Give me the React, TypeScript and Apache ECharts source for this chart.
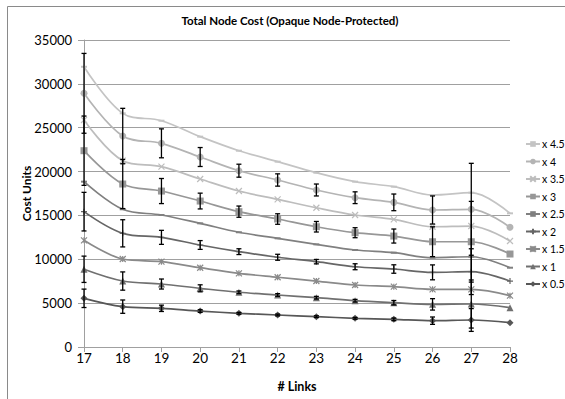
import React, { useEffect, useRef } from "react";
import * as echarts from "echarts";

const links = [17, 18, 19, 20, 21, 22, 23, 24, 25, 26, 27, 28];
const seriesNames = ["x 0.5", "x 1", "x 1.5", "x 2", "x 2.5", "x 3", "x 3.5", "x 4", "x 4.5"];

const x05 = [5550, 4600, 4410, 4100, 3840, 3650, 3460, 3270, 3150, 3000, 3080, 2770];
const x1 = [8860, 7520, 7180, 6690, 6240, 5930, 5620, 5280, 5050, 4860, 4900, 4480];
const x15 = [12160, 10030, 9730, 9040, 8400, 7950, 7520, 7070, 6880, 6570, 6570, 5850];
const x2 = [15430, 12960, 12500, 11630, 10870, 10230, 9730, 9150, 8890, 8510, 8590, 7520];
const x25 = [18850, 15700, 15050, 14100, 13080, 12390, 11700, 11060, 10750, 10180, 10290, 9040];
const x3 = [22380, 18580, 17780, 16640, 15430, 14590, 13710, 13030, 12650, 12000, 12000, 10600];
const x35 = [25880, 21240, 20560, 19150, 17780, 16830, 15880, 15050, 14550, 13710, 13790, 12080];
const x4 = [28920, 24050, 23220, 21660, 20100, 19040, 17900, 17020, 16490, 15620, 15700, 13650];
const x45 = [31950, 26640, 25800, 23980, 22380, 21130, 19870, 18850, 18280, 17330, 17590, 15240];

// symmetric error amounts (+/-)
const err05 = [1050, 760, 360, 150, 100, 100, 100, 100, 150, 420, 1300, 0];
const err1 = [1500, 1040, 570, 400, 150, 150, 150, 150, 250, 650, 2740, 0];
const err2 = [2200, 1550, 800, 500, 330, 340, 250, 340, 480, 850, 2610, 0];
const err3 = [3950, 2800, 1430, 900, 640, 600, 600, 570, 800, 1700, 4600, 0];
const err4 = [4550, 3160, 1650, 1080, 740, 700, 680, 670, 950, 1600, 5240, 0];

const yTicks = { min: 0, max: 35000, interval: 5000 };

const FONT = "Lato";

export default function App() {
  const ref = useRef<HTMLDivElement>(null);

  useEffect(() => {
    if (!ref.current) return;
    const chart = echarts.init(ref.current, undefined, { renderer: "svg" });

    const dash = "path://M0,0H10V3H0Z";
    const cross = "path://M0,0L10,10M10,0L0,10";
    const plus = "path://M5,0V10M0,5H10";
    const star = "path://M0,0L10,10M10,0L0,10M5,0V10";

    const defs = [
      { name: "x 0.5", data: x05, color: "#575757", symbol: "diamond", size: 7, stroke: false },
      { name: "x 1", data: x1, color: "#707070", symbol: "triangle", size: 7, stroke: false },
      { name: "x 1.5", data: x15, color: "#8a8a8a", symbol: star, size: 6, stroke: true },
      { name: "x 2", data: x2, color: "#666666", symbol: plus, size: 6, stroke: true },
      { name: "x 2.5", data: x25, color: "#808080", symbol: dash, size: [6, 2], stroke: false },
      { name: "x 3", data: x3, color: "#979797", symbol: "rect", size: 7, stroke: false },
      { name: "x 3.5", data: x35, color: "#bdbdbd", symbol: cross, size: 6, stroke: true },
      { name: "x 4", data: x4, color: "#b4b4b4", symbol: "circle", size: 7, stroke: false },
      { name: "x 4.5", data: x45, color: "#c4c4c4", symbol: dash, size: [6, 2], stroke: false },
    ];

    const lineSeries = defs.map((d) => ({
      name: d.name,
      type: "line",
      smooth: 0.35,
      data: links.map((x, i) => [x, d.data[i]]),
      symbol: d.symbol,
      symbolSize: d.size,
      showSymbol: true,
      lineStyle: { color: d.color, width: 1.7 },
      itemStyle: d.stroke
        ? { color: d.color, borderColor: d.color, borderWidth: 1.2 }
        : { color: d.color, borderWidth: 0 },
      z: 2,
    }));

    const errDefs = [
      { vals: x05, err: err05 },
      { vals: x1, err: err1 },
      { vals: x2, err: err2 },
      { vals: x3, err: err3 },
      { vals: x4, err: err4 },
    ];

    const errSeries = errDefs.map((e, k) => ({
      name: "err" + k,
      type: "custom",
      z: 5,
      encode: { x: 0, y: [1, 2] },
      data: links.map((x, i) => [x, e.vals[i] - e.err[i], e.vals[i] + e.err[i]]),
      renderItem: (params: any, api: any) => {
        const x = api.value(0);
        const lo = api.value(1);
        const hi = api.value(2);
        if (hi - lo <= 0) return null;
        const p1 = api.coord([x, hi]);
        const p2 = api.coord([x, lo]);
        const st = { stroke: "#000", lineWidth: 1.3 };
        return {
          type: "group",
          children: [
            { type: "line", shape: { x1: p1[0], y1: p1[1], x2: p2[0], y2: p2[1] }, style: st },
            { type: "line", shape: { x1: p1[0] - 2.5, y1: p1[1], x2: p1[0] + 2.5, y2: p1[1] }, style: st },
            { type: "line", shape: { x1: p2[0] - 2.5, y1: p2[1], x2: p2[0] + 2.5, y2: p2[1] }, style: st },
          ],
        };
      },
    }));

    chart.setOption({
      animation: false,
      textStyle: { fontFamily: FONT },
      grid: { left: 84, right: 55, top: 40, bottom: 52, containLabel: false },
      graphic: [
        {
          type: "polyline",
          shape: { points: [[7.5, 420], [7.5, 6.5], [600, 6.5]] },
          style: { stroke: "#8a8a8a", fill: "none", lineWidth: 1 },
          silent: true,
        },
        {
          type: "text",
          x: 290,
          y: 20,
          style: {
            text: "Total Node Cost (Opaque Node-Protected)",
            font: `bold 11.5px ${FONT}`,
            fill: "#000",
            textAlign: "center",
            textVerticalAlign: "middle",
          },
        },
      ],
      legend: {
        orient: "vertical",
        left: 525,
        top: 137,
        width: 40,
        padding: 0,
        itemWidth: 14,
        itemHeight: 7,
        itemGap: 3.5,
        data: [...seriesNames].reverse(),
        textStyle: {
          fontSize: 10.5,
          color: "#000",
          fontFamily: FONT,
          lineHeight: 14,
          padding: [0, 0, 0, -3],
          width: 36,
          overflow: "none",
        },
      },
      xAxis: {
        type: "value",
        min: 17,
        max: 28,
        interval: 1,
        name: "# Links",
        nameLocation: "middle",
        nameGap: 33,
        nameMoveOverlap: false,
        nameTextStyle: { fontWeight: "bold", fontSize: 12.5, color: "#000", fontFamily: FONT },
        axisLine: { show: true, lineStyle: { color: "#a0a0a0", width: 1 } },
        axisTick: { show: true, length: 5, lineStyle: { color: "#a0a0a0" } },
        axisLabel: { fontSize: 13.5, color: "#000", margin: 4, fontFamily: FONT },
        splitLine: { show: false },
      },
      yAxis: {
        type: "value",
        min: yTicks.min,
        max: yTicks.max,
        interval: yTicks.interval,
        name: "Cost Units",
        nameLocation: "middle",
        nameGap: 52,
        nameMoveOverlap: false,
        nameTextStyle: { fontWeight: "bold", fontSize: 12, color: "#000", fontFamily: FONT },
        axisLine: { show: true, lineStyle: { color: "#a0a0a0", width: 1 } },
        axisTick: { show: true, length: 6, lineStyle: { color: "#a0a0a0" } },
        axisLabel: {
          fontSize: 13,
          color: "#000",
          margin: 12,
          fontFamily: FONT,
          formatter: (v: number) => String(v),
        },
        splitLine: { show: true, lineStyle: { color: "#a0a0a0", width: 1 } },
      },
      series: [...lineSeries, ...errSeries],
    });

    return () => chart.dispose();
  }, []);

  return <div ref={ref} style={{ width: 565, height: 399, position: "absolute", left: 0, top: 0 }} />;
}
